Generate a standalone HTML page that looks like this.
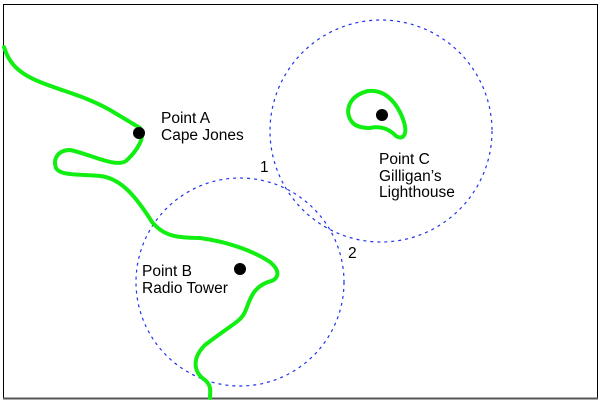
<!DOCTYPE html>
<html><head><style>body{margin:0;background:#fff}svg{display:block}text{font-family:"Liberation Sans",sans-serif;font-size:15.5px;fill:#000}</style></head>
<body>
<svg width="600" height="408" viewBox="0 0 600 408">
<rect width="600" height="408" fill="#fefffe"/>
<rect x="3.5" y="4.5" width="594" height="394" fill="none" stroke="#000" stroke-width="1"/>
<line x1="3" y1="398.5" x2="598" y2="398.5" stroke="#555" stroke-width="2"/>
<circle cx="381" cy="131" r="111" fill="none" stroke="#2233ee" stroke-width="1.2" stroke-dasharray="3,4"/>
<circle cx="240" cy="282" r="104" fill="none" stroke="#2233ee" stroke-width="1.2" stroke-dasharray="3,4"/>
<path d="M4,47 C8,60 15,72 40,82 C65,92 85,96 110,110 L140,128 C146,136 138,150 126,161 C115,168 90,154 70,150 C57,150 53,160 56,168 C60,176 80,174 100,176 C120,178 135,195 152,222 C162,234 172,238 200,238 C230,242 255,252 270,262 C282,272 278,280 268,282 C252,288 250,300 245,312 C240,322 235,322 205,345 C192,358 193,372 205,380 C212,386 210,392 210,398" fill="none" stroke="#11ee11" stroke-width="4" stroke-linecap="round" stroke-linejoin="round"/>
<path d="M352,122 C344,112 348,96 368,91 C386,89 398,104 404,122 C408,136 402,140 396,136 C388,128 380,126 370,128 C362,128 355,126 352,122 Z" fill="none" stroke="#11ee11" stroke-width="4"/>
<circle cx="139" cy="133" r="6" fill="#000"/>
<circle cx="240" cy="269" r="6" fill="#000"/>
<circle cx="382" cy="115" r="6" fill="#000"/>
<text x="161" y="123">Point A</text>
<text x="161" y="140">Cape Jones</text>
<text x="142" y="276">Point B</text>
<text x="142" y="293">Radio Tower</text>
<text x="379" y="164">Point C</text>
<text x="379" y="181">Gilligan’s</text>
<text x="379" y="197">Lighthouse</text>
<text x="260" y="172">1</text>
<text x="348" y="258">2</text>
</svg>
</body></html>
